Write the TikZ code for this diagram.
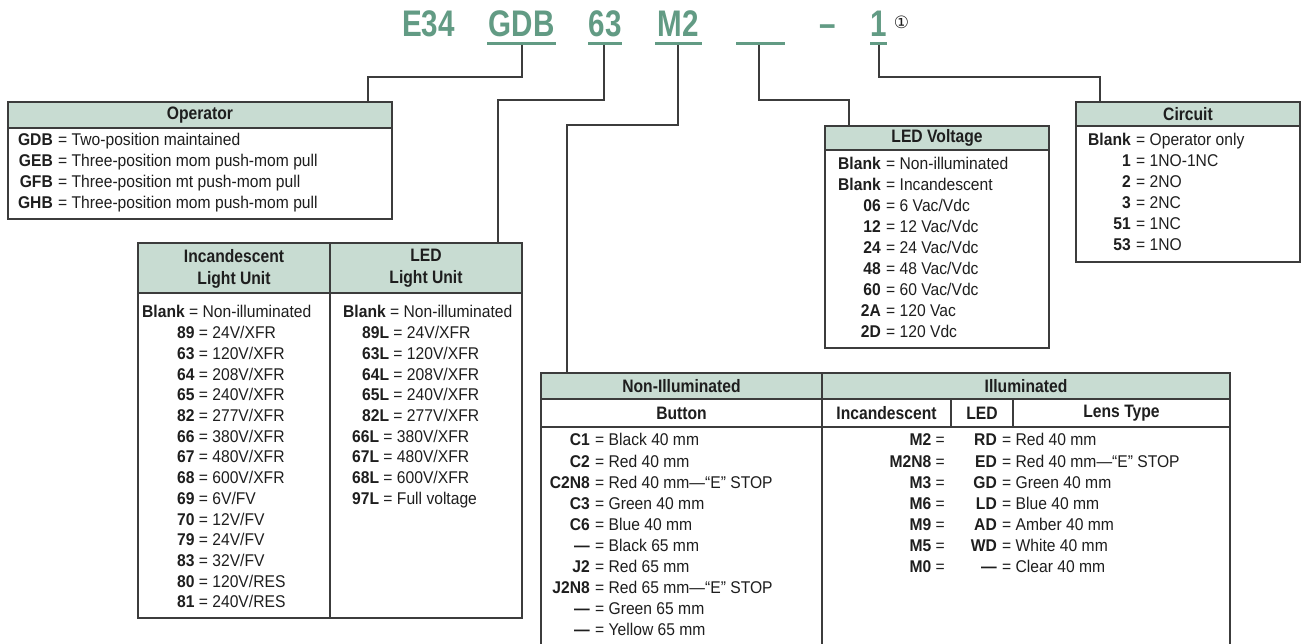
\documentclass[tikz,border=0pt]{standalone}
\usepackage{fontspec}
\setmainfont{Liberation Sans}[FakeStretch=0.92]
\newfontfamily\titlefont{Liberation Sans}[FakeStretch=0.8]
\newfontfamily\hdfont{Liberation Sans}[FakeStretch=0.87]
\newfontfamily\symfont{DejaVu Sans}
\definecolor{ttl}{RGB}{98,155,132}
\definecolor{hdr}{RGB}{200,220,210}
\definecolor{ln}{RGB}{60,60,60}
\definecolor{txt}{RGB}{30,30,30}
\tikzset{
  body/.style={font=\fontsize{17}{20}\selectfont, text=txt, inner sep=0pt},
  hd/.style={font=\hdfont\fontsize{18}{22}\selectfont\bfseries, text=txt, inner sep=0pt, align=center},
  ttlnode/.style={font=\titlefont\fontsize{37}{40}\selectfont\bfseries, text=ttl, inner sep=0pt, anchor=base},
  uline/.style={draw=ttl, line width=3pt},
  conn/.style={draw=ln, line width=1.3pt},
  frame/.style={draw=ln, line width=1.2pt},
  hdfill/.style={fill=hdr, draw=ln, line width=1.2pt},
}
% right-aligned code row: name, x of code end, y centre, code, text
\newcommand\crow[5]{%
  \node[body, anchor=base east] (#1a) at (#2,#3+6) {\textbf{#4}};
  \node[body, anchor=base west] (#1b) at (#2+5,#3+6) {= #5};}
% left-aligned row: name, x start, y centre, code, text
\newcommand\lrow[5]{%
  \node[body, anchor=base west] (#1) at (#2,#3+6) {\textbf{#4} = #5};}
\begin{document}
\begin{tikzpicture}[x=1pt,y=-1pt]
\useasboundingbox (0,0) rectangle (1302,644);
\fill[white] (0,0) rectangle (1302,644);

% ---------- title ----------
\node[ttlnode] (tE) at (428.5,37) {E34};
\node[ttlnode] (tGDB) at (521.5,37) {GDB};
\node[ttlnode] (t63) at (605,37) {63};
\node[ttlnode] (tM2) at (678.5,37) {M2};
\node[ttlnode] (tDash) at (827.5,37) {–};
\node[ttlnode] (tOne) at (878.5,37) {1};
\node[inner sep=0pt, font=\symfont\fontsize{17}{18}\selectfont, text=txt] (tNote) at (901.5,22) {①};
\draw[uline] (487,43.5) -- (556,43.5);
\draw[uline] (588,43.5) -- (622,43.5);
\draw[uline] (655,43.5) -- (702,43.5);
\draw[uline] (736,43.5) -- (785,43.5);
\draw[uline] (870,43.5) -- (887,43.5);

\coordinate (sGDB) at (522,45);
\coordinate (s63) at (604,45);
\coordinate (sM2) at (678,45);
\coordinate (sBl) at (759,45);
\coordinate (sOne) at (879,45);

% ---------- Operator ----------
\draw[hdfill] (8,102) rectangle (392,128);
\draw[frame] (8,102) rectangle (392,219);
\coordinate (opTop) at (368,102);
\node[hd] (opH) at (200,115.5) {Operator};
\crow{op1}{53}{140}{GDB}{Two-position maintained}
\crow{op2}{53}{161}{GEB}{Three-position mom push-mom pull}
\crow{op3}{53}{182}{GFB}{Three-position mt push-mom pull}
\crow{op4}{53}{203}{GHB}{Three-position mom push-mom pull}

% ---------- Light unit ----------
\draw[hdfill] (138,243) rectangle (522,293);
\draw[frame] (138,243) rectangle (522,618);
\draw[frame] (330,243) -- (330,618);
\coordinate (luTop) at (498,243);
\node[hd] (luH1) at (234,268.5) {Incandescent\\Light Unit};
\node[hd] (luH2) at (426,268.5) {LED\\Light Unit};
\lrow{i0}{142}{312}{Blank}{Non-illuminated}
\lrow{i1}{177}{332.7}{89}{24V/XFR}
\lrow{i2}{177}{353.4}{63}{120V/XFR}
\lrow{i3}{177}{374.1}{64}{208V/XFR}
\lrow{i4}{177}{394.8}{65}{240V/XFR}
\lrow{i5}{177}{415.5}{82}{277V/XFR}
\lrow{i6}{177}{436.2}{66}{380V/XFR}
\lrow{i7}{177}{456.9}{67}{480V/XFR}
\lrow{i8}{177}{477.6}{68}{600V/XFR}
\lrow{i9}{177}{498.3}{69}{6V/FV}
\lrow{i10}{177}{519}{70}{12V/FV}
\lrow{i11}{177}{539.7}{79}{24V/FV}
\lrow{i12}{177}{560.4}{83}{32V/FV}
\lrow{i13}{177}{581.1}{80}{120V/RES}
\lrow{i14}{177}{601.8}{81}{240V/RES}
\lrow{l0}{343}{312}{Blank}{Non-illuminated}
\lrow{l1}{362}{332.7}{89L}{24V/XFR}
\lrow{l2}{362}{353.4}{63L}{120V/XFR}
\lrow{l3}{362}{374.1}{64L}{208V/XFR}
\lrow{l4}{362}{394.8}{65L}{240V/XFR}
\lrow{l5}{362}{415.5}{82L}{277V/XFR}
\lrow{l6}{352}{436.2}{66L}{380V/XFR}
\lrow{l7}{352}{456.9}{67L}{480V/XFR}
\lrow{l8}{352}{477.6}{68L}{600V/XFR}
\lrow{l9}{352}{498.3}{97L}{Full voltage}

% ---------- LED Voltage ----------
\draw[hdfill] (825,126) rectangle (1049,150);
\draw[frame] (825,126) rectangle (1049,348);
\coordinate (lvTop) at (849,126);
\node[hd] (lvH) at (937,138) {LED Voltage};
\crow{v0}{881}{164}{Blank}{Non-illuminated}
\crow{v1}{881}{184.9}{Blank}{Incandescent}
\crow{v2}{881}{205.8}{06}{6 Vac/Vdc}
\crow{v3}{881}{226.7}{12}{12 Vac/Vdc}
\crow{v4}{881}{247.6}{24}{24 Vac/Vdc}
\crow{v5}{881}{268.5}{48}{48 Vac/Vdc}
\crow{v6}{881}{289.4}{60}{60 Vac/Vdc}
\crow{v7}{881}{310.3}{2A}{120 Vac}
\crow{v8}{881}{331.2}{2D}{120 Vdc}

% ---------- Circuit ----------
\draw[hdfill] (1076,102) rectangle (1300,126);
\draw[frame] (1076,102) rectangle (1300,262);
\coordinate (ciTop) at (1100,102);
\node[hd] (ciH) at (1188,114) {Circuit};
\crow{c0}{1131}{140}{Blank}{Operator only}
\crow{c1}{1131}{161}{1}{1NO-1NC}
\crow{c2}{1131}{182}{2}{2NO}
\crow{c3}{1131}{203}{3}{2NC}
\crow{c4}{1131}{224}{51}{1NC}
\crow{c5}{1131}{245}{53}{1NO}

% ---------- Button / lens ----------
\draw[hdfill] (541,373) rectangle (1230,399);
\draw[frame] (541,373) rectangle (1230,660);
\draw[frame] (541,427) -- (1230,427);
\draw[frame] (822,373) -- (822,660);
\draw[frame] (951,399) -- (951,427);
\draw[frame] (1013,399) -- (1013,427);
\coordinate (buTop) at (567,373);
\node[hd] (bH1) at (681.5,386) {Non-Illuminated};
\node[hd] (bH2) at (1026,386) {Illuminated};
\node[hd] (bH3) at (681.5,413) {Button};
\node[hd] (bH4) at (886.5,413) {Incandescent};
\node[hd] (bH5) at (982,413) {LED};
\node[hd] (bH6) at (1121.5,413) {Lens Type};
\crow{b0}{590}{440}{C1}{Black 40 mm}
\crow{b1}{590}{461}{C2}{Red 40 mm}
\crow{b2}{590}{482}{C2N8}{Red 40 mm—“E” STOP}
\crow{b3}{590}{503}{C3}{Green 40 mm}
\crow{b4}{590}{524}{C6}{Blue 40 mm}
\crow{b5}{590}{545}{—}{Black 65 mm}
\crow{b6}{590}{566}{J2}{Red 65 mm}
\crow{b7}{590}{587}{J2N8}{Red 65 mm—“E” STOP}
\crow{b8}{590}{608}{—}{Green 65 mm}
\crow{b9}{590}{629}{—}{Yellow 65 mm}
\node[body, anchor=base east] (m0) at (945,446) {\textbf{M2} =};
\node[body, anchor=base east] (m1) at (945,467) {\textbf{M2N8} =};
\node[body, anchor=base east] (m2) at (945,488) {\textbf{M3} =};
\node[body, anchor=base east] (m3) at (945,509) {\textbf{M6} =};
\node[body, anchor=base east] (m4) at (945,530) {\textbf{M9} =};
\node[body, anchor=base east] (m5) at (945,551) {\textbf{M5} =};
\node[body, anchor=base east] (m6) at (945,572) {\textbf{M0} =};
\crow{d0}{997}{440}{RD}{Red 40 mm}
\crow{d1}{997}{461}{ED}{Red 40 mm—“E” STOP}
\crow{d2}{997}{482}{GD}{Green 40 mm}
\crow{d3}{997}{503}{LD}{Blue 40 mm}
\crow{d4}{997}{524}{AD}{Amber 40 mm}
\crow{d5}{997}{545}{WD}{White 40 mm}
\crow{d6}{997}{566}{—}{Clear 40 mm}

% ---------- connectors ----------
\draw[conn] (sGDB) -- (522,77) -| (opTop);
\draw[conn] (s63) -- (604,100) -| (luTop);
\draw[conn] (sM2) -- (678,125) -| (buTop);
\draw[conn] (sBl) -- (759,100) -| (lvTop);
\draw[conn] (sOne) -- (879,77) -| (ciTop);
\end{tikzpicture}
\end{document}
